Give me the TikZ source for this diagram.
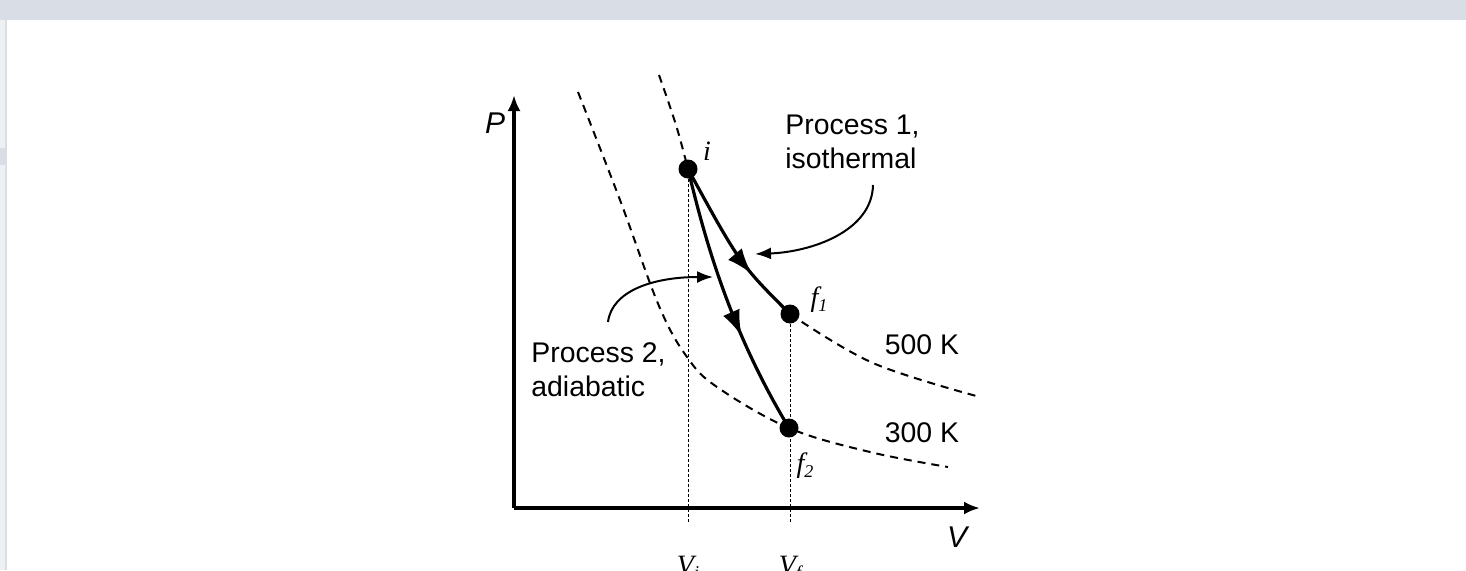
\documentclass[tikz,border=0pt]{standalone}
\usepackage{fontspec}
\setmainfont{Liberation Sans}
\newfontfamily\stateserif{Liberation Serif}
\usepackage{xcolor}
\usetikzlibrary{arrows.meta, decorations.markings}
\definecolor{bandgrey}{RGB}{216,221,230}
\definecolor{stripgrey}{RGB}{238,240,244}

\begin{document}
\begin{tikzpicture}[x=0.5pt, y=-0.5pt,
        axis/.style={draw, line width=1.6pt, -{Latex[length=8pt,width=6.5pt]}},
        isotherm/.style={draw, line width=1pt, dash pattern=on 4pt off 3pt},
        guide/.style={draw, line width=0.5pt, dash pattern=on 1.5pt off 1pt},
        process/.style={draw, line width=1.6pt, postaction={decorate},
            decoration={markings, mark=at position #1 with {\arrow{Latex[length=13pt,width=9pt]}}}},
        pointer/.style={draw, line width=1pt, -{Latex[length=8pt,width=6pt]}},
        dot/.style={circle, fill=black, inner sep=0pt, minimum size=9.5pt},
        lbl/.style={inner sep=0pt, align=left, font=\fontsize{14.2}{17}\selectfont},
        statelbl/.style={inner sep=0pt, font=\stateserif\itshape\fontsize{14}{16}\selectfont}]

    \useasboundingbox (0,0) rectangle (1466,570);
    \clip (0,0) rectangle (1466,570);
    \fill[white] (0,0) rectangle (1466,570);
    \fill[bandgrey] (0,0) rectangle (1466,20);
    \fill[stripgrey] (0,20) rectangle (6,570);
    \fill[bandgrey] (5,20) rectangle (7,570);
    \fill[bandgrey] (0,148) rectangle (5,165);

    % axes
    \coordinate (origin) at (514,508);
    \coordinate (ptip) at (514,95);
    \coordinate (vtip) at (980,508);
    \path[axis] (origin) -- (ptip);
    \path[axis] (origin) -- (vtip);
    \node[lbl, font=\itshape\fontsize{15}{17}\selectfont] (plabel) at (495,123) {P};
    \node[lbl, font=\itshape\fontsize{15}{17}\selectfont] (vlabel) at (957,537) {V};

    % states
    \coordinate (i) at (688,169);
    \coordinate (f1) at (790,314);
    \coordinate (f2) at (789,428);
    \coordinate (vi) at (688,523);
    \coordinate (vf) at (790,523);

    % isotherms
    \path[isotherm] plot[smooth, tension=0.6] coordinates {(659,75) (676,125) (i)};
    \path[isotherm] plot[smooth, tension=0.6] coordinates {(f1) (873,363) (980,397)};
    \path[isotherm] plot[smooth, tension=0.6] coordinates {(578,92) (620,200) (659,306) (687,357) (717,387) (f2) (870,452) (948,467)};
    \node[lbl] (hot) at (922,345) {500 K};
    \node[lbl] (cold) at (922,433) {300 K};

    \path[guide] (i) -- (vi);
    \path[guide] (f1) -- (vf);

    % the two processes
    \path[process=0.69] (i) .. controls (740,264) .. (f1);
    \path[process=0.63] (i) .. controls (705,240) and (730,330) .. (f2);

    \node[dot] (idot) at (i) {};
    \node[dot] (f1dot) at (f1) {};
    \node[dot] (f2dot) at (f2) {};
    \node[statelbl] (ilabel) at (707,151) {i};
    \node[statelbl] (f1label) at (819,300) {f\raisebox{-0.35ex}{\fontsize{9}{9}\selectfont 1}};
    \node[statelbl] (f2label) at (805,466) {f\raisebox{-0.35ex}{\fontsize{9}{9}\selectfont 2}};
    \node[statelbl, anchor=base] (vilabel) at (688,574) {V\raisebox{-0.35ex}{\fontsize{9}{9}\selectfont i}};
    \node[statelbl, anchor=base] (vflabel) at (790,574) {V\raisebox{-0.35ex}{\fontsize{9}{9}\selectfont f}};

    % labels with pointers
    \node[lbl, anchor=west] (proc1) at (785,142) {Process 1,\\isothermal};
    \node[lbl, anchor=west] (proc2) at (531,370) {Process 2,\\adiabatic};
    \coordinate (p1tail) at (873,185);
    \coordinate (p1head) at (755,254);
    \coordinate (p2tail) at (608,322);
    \coordinate (p2head) at (713,277);
    \path[pointer] (p1tail) .. controls (872,232) and (810,252) .. (p1head);
    \path[pointer] (p2tail) .. controls (612,290) and (655,277) .. (p2head);
\end{tikzpicture}
\end{document}
